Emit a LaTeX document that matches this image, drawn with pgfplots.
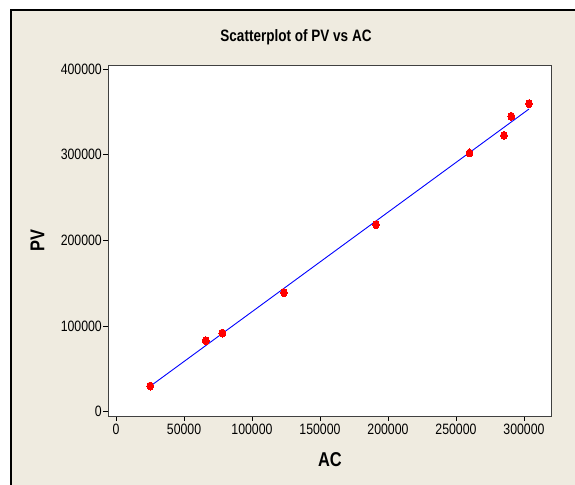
\documentclass[border=0pt]{standalone}
\usepackage{fontspec}
\setmainfont[FakeStretch=0.82]{Liberation Sans}
\usepackage{pgfplots}
\pgfplotsset{compat=1.18}
\definecolor{mtbeige}{RGB}{239,235,224}
\definecolor{mtred}{RGB}{255,0,0}
\definecolor{mtblue}{RGB}{0,0,255}
\begin{document}
\begin{tikzpicture}
  \useasboundingbox (0,0) rectangle (575bp,485bp);
  \fill[mtbeige] (11bp,0) rectangle (576bp,475bp);
  \draw[line width=1.5bp] (11bp,-1bp) -- (11bp,475bp) -- (576bp,475bp);
  \begin{axis}[
      at={(108bp,69bp)}, anchor=south west,
      scale only axis,
      width=443.7bp, height=350bp,
      xmin=-5900, xmax=320400,
      ymin=-5000, ymax=403400,
      axis background/.style={fill=white},
      axis line style={draw=black!75, line width=1bp},
      xtick={0,50000,...,300000},
      ytick={0,100000,...,400000},
      scaled ticks=false,
      /pgf/number format/.cd, fixed, 1000 sep={}, assume math mode=true, /pgfplots/.cd,
      tick align=outside, xtick pos=left, ytick pos=left,
      major tick length=5bp,
      tick style={black, line width=0.8bp},
      tick label style={font=\fontsize{15bp}{18bp}\selectfont},
      yticklabel style={inner sep=1bp},
      label style={font=\bfseries\fontsize{20bp}{22bp}\selectfont},
      xlabel={AC}, ylabel={PV},
      xlabel style={at={(axis description cs:0.5,-0.1257)}, anchor=center},
      ylabel style={at={(axis description cs:-0.159,0.5)}, anchor=center},
      title={Scatterplot of PV vs AC},
      title style={font=\bfseries\fontsize{16.5bp}{19bp}\selectfont,
                   at={(axis description cs:0.4237,1.0657)}, anchor=center},
    ]
    % fitted line
    \addplot[mtblue, line width=0.9bp, no marks] coordinates {
      (25200,29800) (303700,353200)
    };
    % observations
    \addplot[mtred, only marks, mark=*, mark size=4bp,
             mark options={xscale=0.85, fill=mtred, draw=mtred, line width=0pt}] coordinates {
      (25200,30000)
      (66000,82900)
      (78200,91800)
      (123500,138900)
      (191200,218200)
      (260000,301900)
      (285300,322500)
      (290700,344700)
      (303700,359400)
    };
  \end{axis}
\end{tikzpicture}
\end{document}
